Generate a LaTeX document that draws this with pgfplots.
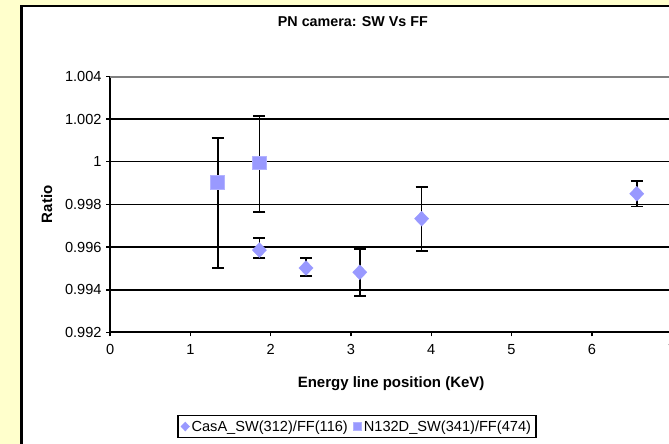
\documentclass[border=0pt]{standalone}
\usepackage{fontspec}
\setmainfont{Liberation Sans}
\usepackage{pgfplots}
\pgfplotsset{compat=1.18}
\definecolor{chartbg}{HTML}{FFFFCC}
\definecolor{markfill}{HTML}{9999FF}
\definecolor{markedge}{HTML}{B3B3FF}
\definecolor{framegray}{HTML}{808080}
\newcommand{\tf}{\fontsize{14.6bp}{17bp}\selectfont}
\newcommand{\lf}{\fontsize{15bp}{18bp}\selectfont\bfseries}

\begin{document}
\begin{tikzpicture}[x=1bp,y=1bp]
\useasboundingbox (0,0) rectangle (669,444);
\clip (0,0) rectangle (669,444);
% page background and chart area
\fill[chartbg] (0,0) rectangle (669,444);
\filldraw[fill=white, draw=black, line width=2.5bp] (21.7,-10) rectangle (720,437.8);
\begin{axis}[
  at={(110.1bp,111.5bp)}, anchor=south west, scale only axis,
  width=562bp, height=256.2bp,
  xmin=0, xmax=7, ymin=0.992, ymax=1.004,
  axis x line*=bottom, axis y line*=left,
  axis line style={black, line width=2bp},
  /pgf/number format/assume math mode=true,
  xtick={0,1,2,3,4,5,6,7},
  ytick={0.992,0.994,0.996,0.998,1,1.002,1.004},
  scaled y ticks=false,
  every tick label/.append style={font=\tf},
  tick align=outside, major tick length=4bp,
  tick style={black, line width=1.5bp},
  ymajorgrids, grid style={black, line width=1.5bp},
  xticklabel style={yshift=-4bp},
  yticklabel style={xshift=-1bp, /pgf/number format/.cd, fixed, precision=3},
  xlabel={\lf Energy line position (KeV)},
  xlabel style={at={(axis description cs:0.5,-0.198)}, anchor=center},
  ylabel={\lf Ratio},
  ylabel style={at={(axis description cs:-0.1128,0.5)}, anchor=center},
  title={\fontsize{14.3bp}{17bp}\selectfont\bfseries PN camera: SW Vs FF},
  title style={at={(axis description cs:0.432,1.191)}, anchor=center},
  legend columns=2,
  legend style={at={(axis description cs:0.4393,-0.367)}, anchor=center,
    draw=black, line width=1.5bp, inner xsep=3bp, inner ysep=3bp,
    /tikz/every even column/.append style={column sep=4bp}},
  error bars/error bar style={black, line width=1.7bp},
  error bars/error mark options={black, rotate=90, mark size=6bp, line width=1.7bp},
]
% top frame line of the plot area
\draw[framegray, line width=2.5bp] (rel axis cs:0,1) -- (rel axis cs:1,1);

\addplot[only marks, mark=diamond*, mark size=7.4bp,
  mark options={xscale=1.27, fill=markfill, draw=markfill, line width=0.4bp},
  legend image post style={mark size=4.5bp, line width=0.4bp},
  error bars/.cd, y dir=both, y explicit]
  coordinates {
  (1.86,0.99586) += (0,0.00055) -= (0,0.00038)
  (2.44,0.99502) += (0,0.00046) -= (0,0.00039)
  (3.11,0.99482) +- (0,0.0011)
  (3.88,0.99733) +- (0,0.0015)
  (6.56,0.99850) +- (0,0.0006)
  };
\addlegendentry{\tf CasA\_SW(312)/FF(116)}

\addplot[only marks, mark=square*, mark size=6.8bp,
  mark options={fill=markfill, draw=markedge, line width=0.8bp},
  legend image post style={mark size=4bp, line width=0.4bp},
  error bars/.cd, y dir=both, y explicit]
  coordinates {
  (1.34,0.99904) += (0,0.00206) -= (0,0.00403)
  (1.86,0.99995) += (0,0.00219) -= (0,0.00232)
  };
\addlegendentry{\tf N132D\_SW(341)/FF(474)}
\end{axis}
\end{tikzpicture}
\end{document}
